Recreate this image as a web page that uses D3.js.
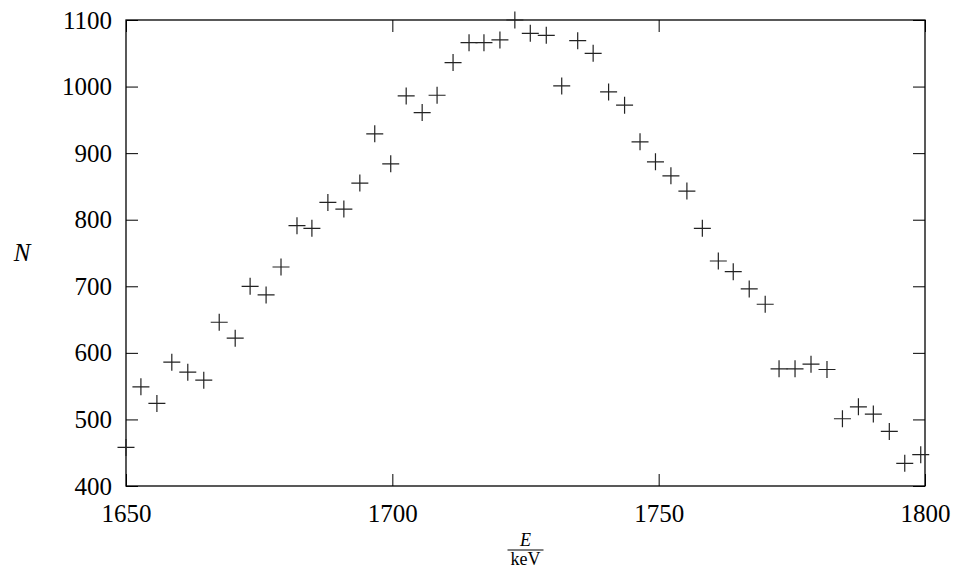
<!DOCTYPE html>
<html>
<head>
<meta charset="utf-8">
<script src="https://cdn.jsdelivr.net/npm/d3@7"></script>
<style>
  body { margin: 0; background: #fff; }
  svg text { font-family: "Liberation Serif", "DejaVu Serif", serif; fill: #000; }
</style>
</head>
<body>
<svg id="chart" width="959" height="571"></svg>
<script>
// energies (keV) and counts
const energies = [
  1650.0, 1652.8, 1655.8, 1658.6, 1661.6, 1664.6, 1667.5, 1670.5, 1673.3, 1676.3,
  1679.1, 1682.1, 1684.9, 1687.9, 1690.9, 1693.9, 1696.7, 1699.7, 1702.6, 1705.6,
  1708.4, 1711.4, 1714.4, 1717.2, 1720.2, 1723.0, 1725.9, 1728.9, 1731.8, 1734.8,
  1737.7, 1740.6, 1743.6, 1746.5, 1749.4, 1752.3, 1755.3, 1758.2, 1761.2, 1764.0,
  1767.0, 1770.0, 1772.6, 1775.6, 1778.6, 1781.6, 1784.5, 1787.5, 1790.3, 1793.3,
  1796.2, 1799.2
];
const counts = [
  458, 549, 524, 586, 571, 559, 646, 622, 700, 687,
  729, 791, 787, 826, 816, 855, 929, 884, 986, 961,
  987, 1036, 1066, 1066, 1070, 1100, 1080, 1077, 1001, 1069,
  1050, 992, 972, 917, 887, 866, 843, 787, 738, 722,
  696, 673, 576, 576, 583, 575, 501, 519, 508, 482,
  434, 447
];
const xTicks = [1650, 1700, 1750, 1800];
const yTicks = [400, 500, 600, 700, 800, 900, 1000, 1100];

const margin = { left: 126, right: 34, top: 20, bottom: 85 };
const W = 959, H = 571;

const svg = d3.select("#chart");
const x = d3.scaleLinear().domain([1650, 1800]).range([margin.left, W - margin.right]);
const y = d3.scaleLinear().domain([400, 1100]).range([H - margin.bottom, margin.top]);

const tickLen = 12;
const fmt = d3.format("d");

// inward ticks on all four sides
const axes = [
  d3.axisBottom(x).tickValues(xTicks).tickSize(-tickLen).tickPadding(18).tickFormat(fmt),
  d3.axisTop(x).tickValues(xTicks).tickSize(-tickLen).tickFormat(""),
  d3.axisLeft(y).tickValues(yTicks).tickSize(-tickLen).tickPadding(14).tickFormat(fmt),
  d3.axisRight(y).tickValues(yTicks).tickSize(-tickLen).tickFormat("")
];
const shifts = [
  `translate(0,${y(400)})`, `translate(0,${y(1100)})`,
  `translate(${x(1650)},0)`, `translate(${x(1800)},0)`
];
axes.forEach((ax, i) => {
  const g = svg.append("g").attr("transform", shifts[i]).call(ax);
  g.select(".domain").remove();
  g.selectAll("line").attr("stroke", "#000").attr("stroke-width", 1);
  g.selectAll("text").style("font-size", "25px").attr("font-family", null);
});

svg.append("rect")
  .attr("x", x(1650)).attr("y", y(1100))
  .attr("width", x(1800) - x(1650)).attr("height", y(400) - y(1100))
  .attr("fill", "none").attr("stroke", "#000").attr("stroke-width", 1.3);

// plus markers
const arm = 8.5;
const pts = svg.append("g").attr("stroke", "#222").attr("stroke-width", 1.2);
energies.forEach((e, i) => {
  const cx = x(e), cy = y(counts[i]);
  pts.append("path").attr("d", `M${cx - arm},${cy}H${cx + arm}M${cx},${cy - arm}V${cy + arm}`);
});

// y label
svg.append("text").attr("x", 22).attr("y", y(750) + 8)
  .attr("text-anchor", "middle").style("font-size", "25px").style("font-style", "italic").text("N");

// x label as a fraction E / keV
const cxl = (x(1650) + x(1800)) / 2;
svg.append("text").attr("x", cxl).attr("y", 545.5)
  .attr("text-anchor", "middle").style("font-size", "18px").style("font-style", "italic").text("E");
svg.append("line").attr("x1", cxl - 18).attr("x2", cxl + 18).attr("y1", 550).attr("y2", 550)
  .attr("stroke", "#000").attr("stroke-width", 1);
svg.append("text").attr("x", cxl).attr("y", 565)
  .attr("text-anchor", "middle").style("font-size", "18px").text("keV");
</script>
</body>
</html>
